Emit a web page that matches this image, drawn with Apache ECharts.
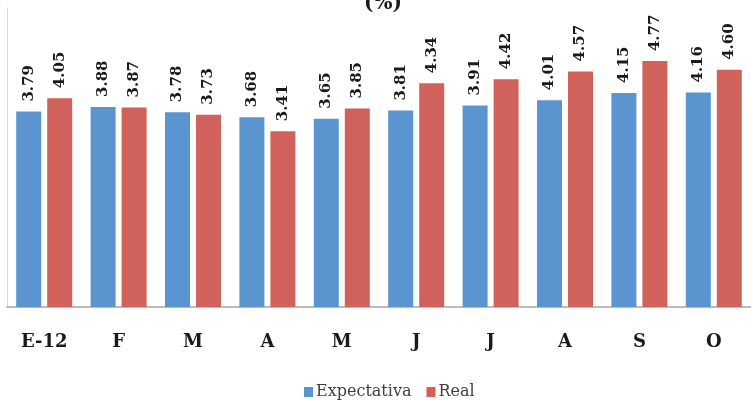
<!DOCTYPE html>
<html>
<head>
<meta charset="utf-8">
<script src="https://cdn.jsdelivr.net/npm/echarts@6/dist/echarts.min.js"></script>
<style>html,body{margin:0;padding:0;background:#fff}#c{width:751px;height:400px}</style>
</head>
<body>
<div id="c"></div>
<script>
const categories = ['E-12','F','M','A','M','J','J','A','S','O'];
const expectativa = [3.79,3.88,3.78,3.68,3.65,3.81,3.91,4.01,4.15,4.16];
const real = [4.05,3.87,3.73,3.41,3.85,4.34,4.42,4.57,4.77,4.60];
const seriesNames = ['Expectativa','Real'];

const chart = echarts.init(document.getElementById('c'));
const labelCfg = {
  show: true, position: 'top', rotate: 90, align: 'left', verticalAlign: 'middle',
  distance: 10, fontFamily: 'DejaVu Serif', fontWeight: 'bold', fontSize: 15, color: '#1a1a1a',
  formatter: p => p.value.toFixed(2)
};
chart.setOption({
  animation: false,
  title: { text: '(%)', left: 359, top: -11, textStyle: { fontFamily: 'DejaVu Serif', fontWeight: 'bold', fontSize: 20, color: '#1a1a1a' } },
  grid: { left: 7, right: -11, top: 8, bottom: 93 },
  legend: {
    data: seriesNames, left: 299, top: 379, itemWidth: 9, itemHeight: 10, itemGap: 15,
    icon: 'rect',
    textStyle: { fontFamily: 'DejaVu Serif', fontSize: 16, color: '#404040', padding: [0,0,0,-2] }
  },
  xAxis: {
    type: 'category', data: categories,
    axisLine: { lineStyle: { color: '#a6a6a6', width: 1.5 } },
    axisTick: { show: false },
    axisLabel: { margin: 26, fontFamily: 'DejaVu Serif', fontWeight: 'bold', fontSize: 18, color: '#1a1a1a' }
  },
  yAxis: {
    type: 'value', min: 0, max: 5.8,
    axisLine: { show: true, lineStyle: { color: '#d9d9d9' } },
    axisTick: { show: false }, axisLabel: { show: false }, splitLine: { show: false }
  },
  series: [
    { name: seriesNames[0], type: 'bar', data: expectativa, barWidth: 25, barGap: '24%', itemStyle: { color: '#5b95cf' }, label: labelCfg },
    { name: seriesNames[1], type: 'bar', data: real, barWidth: 25, itemStyle: { color: '#d0615b' }, label: labelCfg }
  ]
});
</script>
</body>
</html>
